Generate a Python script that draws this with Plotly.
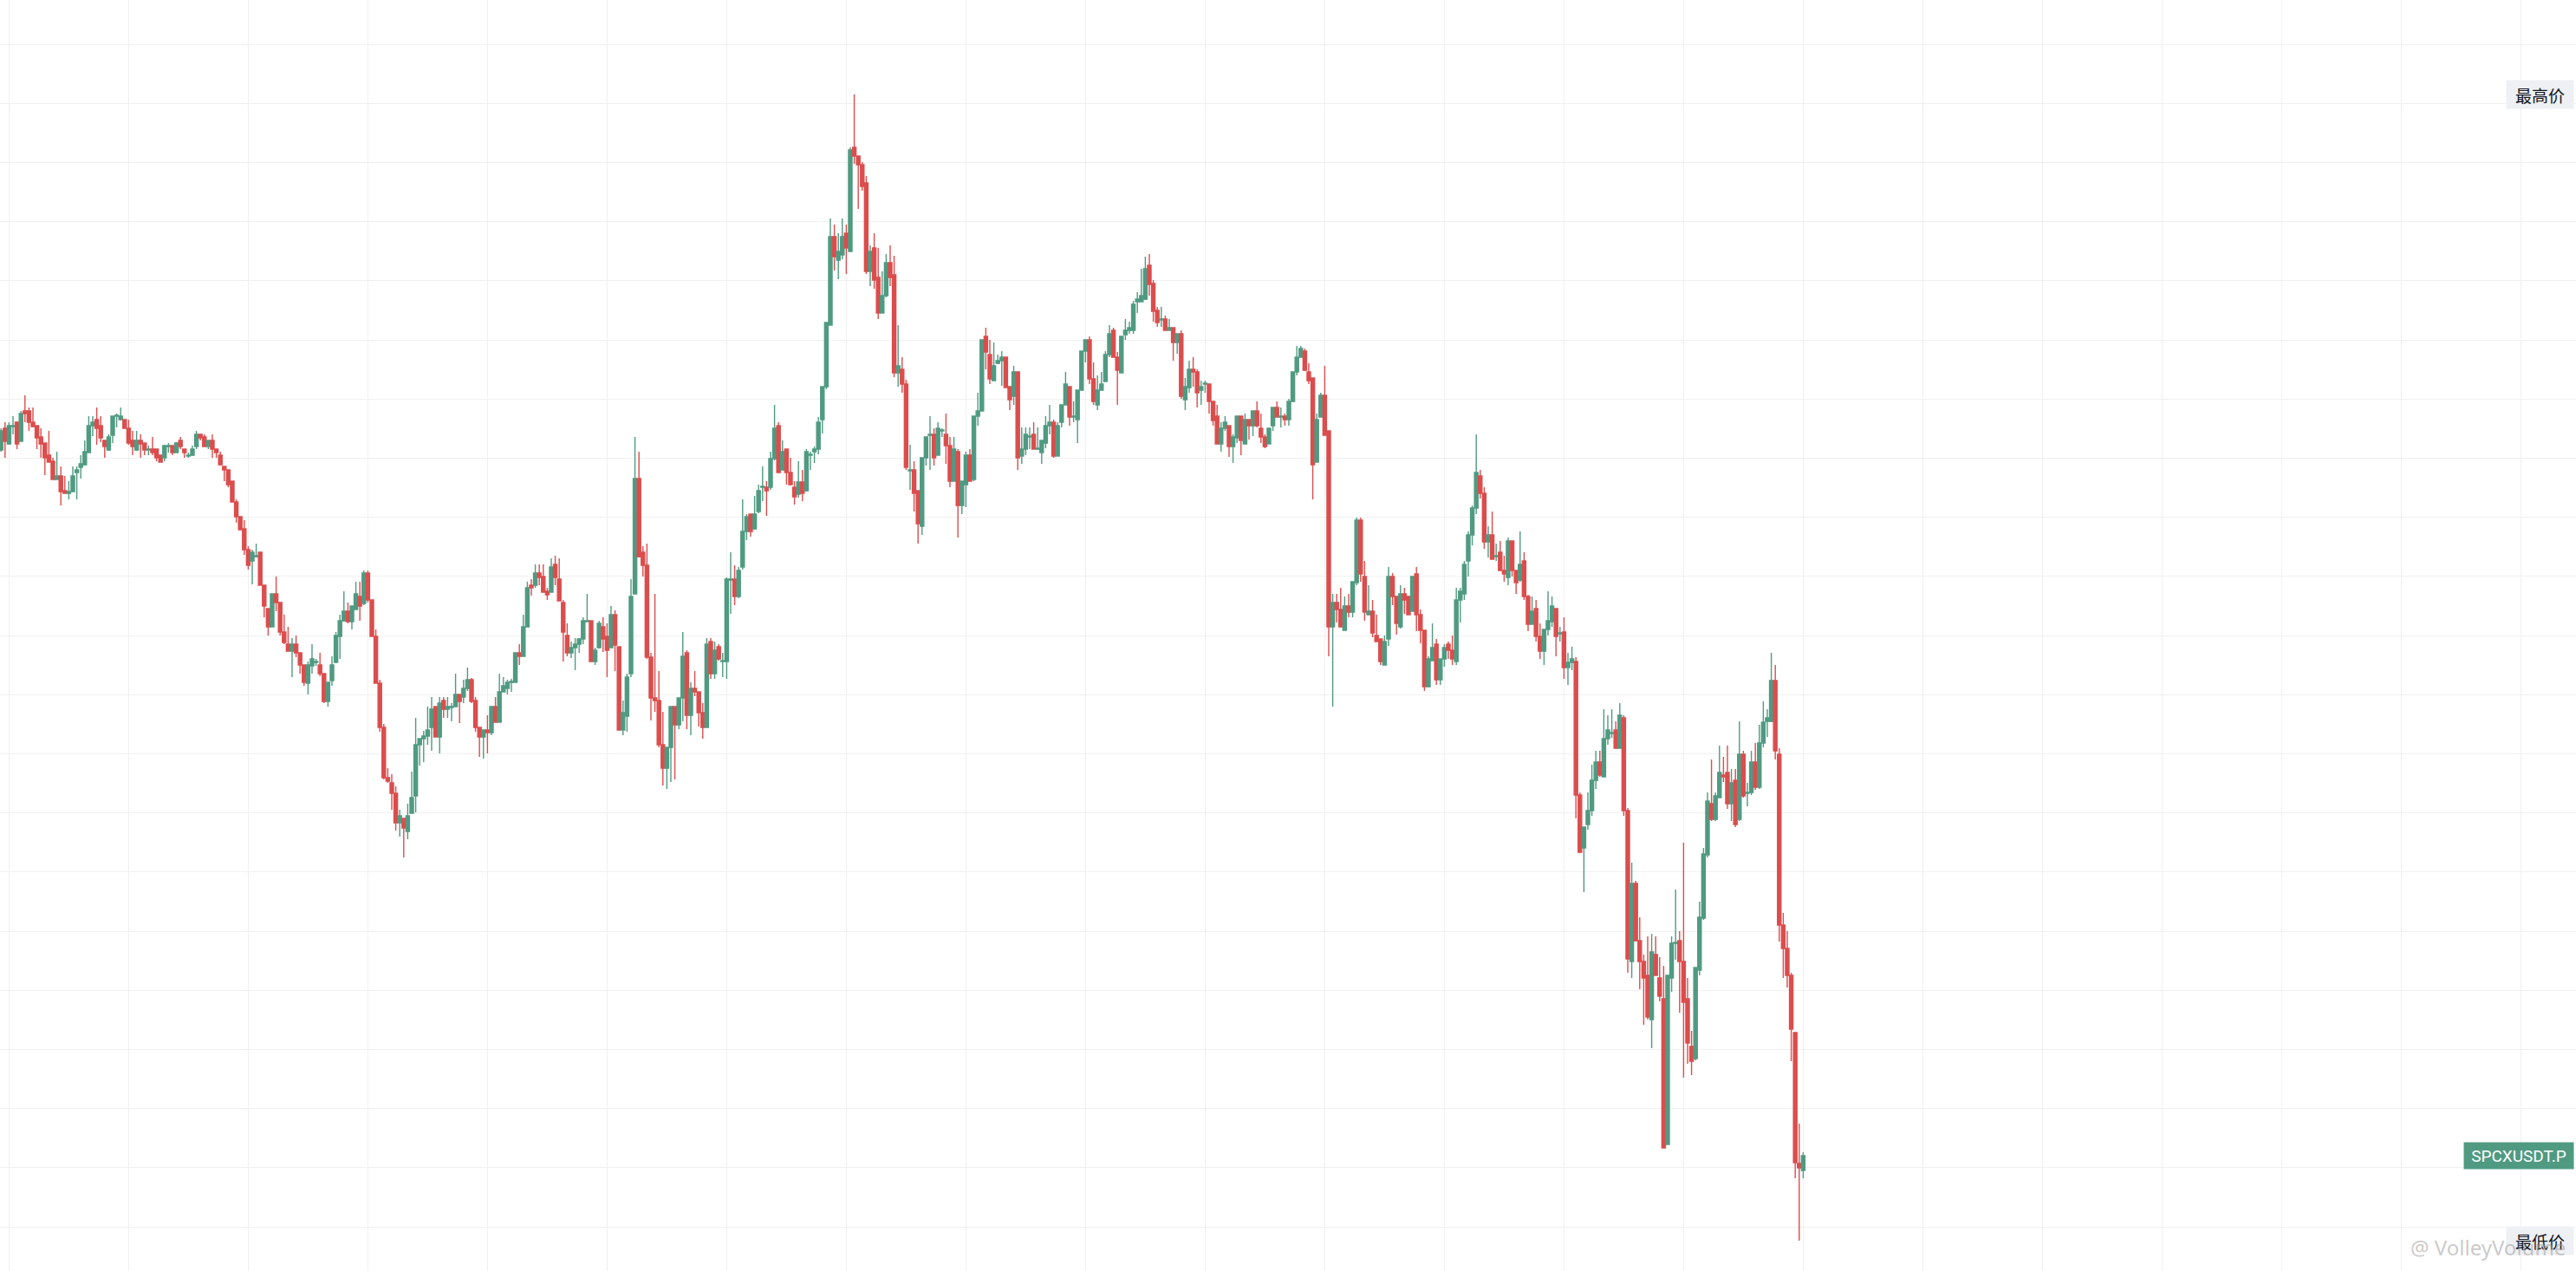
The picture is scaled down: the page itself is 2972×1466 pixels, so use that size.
import plotly.graph_objects as go

# ---- data (price units, one candle per period) ----
opens = [
981,1006,988,1008,1013,991,1026,1026,1013,1009,
996,989,975,968,947,951,934,931,933,955,
961,964,978,1009,1016,1009,992,981,998,1020,
1016,1016,1006,992,981,992,989,981,982,982,
975,972,985,986,978,992,982,974,975,985,
999,996,985,992,982,975,962,958,945,921,
904,890,866,853,858,863,825,798,777,815,
805,771,757,749,757,747,733,712,732,736,
733,723,691,715,736,766,784,795,783,797,
812,804,839,808,766,712,661,603,597,585,
551,556,541,562,582,641,648,651,661,685,
650,692,682,684,685,699,696,706,716,692,
661,650,658,655,685,667,702,706,713,713,
747,743,777,825,825,839,835,818,817,849,
832,805,767,747,753,757,763,783,784,737,
753,777,766,753,791,754,658,674,723,815,
948,863,848,742,695,692,641,614,638,685,
664,695,747,675,706,702,678,661,760,723,
754,737,737,831,832,812,846,887,907,890,
910,938,938,938,971,1009,958,982,955,938,
930,944,934,975,979,982,1016,1054,1125,1227,
1200,1206,1231,1210,1330,1320,1310,1289,1187,1214,
1180,1139,1159,1197,1183,1070,1074,1057,957,958,
934,893,972,998,999,975,1003,999,986,945,
979,917,941,975,947,1020,1026,1112,1091,1061,
1081,1084,1088,1054,1043,1071,974,982,996,999,
982,978,989,1009,1013,974,1013,1033,1054,1019,
1016,1050,1095,1108,1063,1033,1050,1060,1091,1119,
1088,1070,1114,1119,1119,1152,1152,1155,1194,1173,
1142,1131,1132,1119,1122,1105,1115,1039,1053,1074,
1071,1050,1057,1057,1037,1020,988,1006,1009,985,
995,1020,988,1016,1009,1026,1006,996,988,1009,
1030,1019,1020,1016,1037,1071,1088,1095,1071,1064,
967,1019,1044,1003,777,805,797,773,801,794,
828,900,835,791,795,767,763,733,763,835,
812,777,815,812,795,838,791,773,708,738,
757,716,740,757,750,737,808,815,853,883,
914,951,931,875,883,858,863,842,834,876,
842,831,853,812,780,798,766,749,774,783,
798,769,771,730,736,737,583,522,549,565,
600,621,604,648,654,658,637,672,565,391,
481,415,391,375,324,399,372,348,180,372,
412,415,391,348,293,279,381,441,514,573,
555,580,606,609,573,600,555,630,585,586,
621,592,643,668,668,715,630,433,406,375,
309,158,150]

highs = [
1006,1013,1013,1020,1014,1026,1044,1030,1030,1009,
1006,989,1003,972,979,962,951,945,962,962,
975,992,1020,1020,1030,1020,992,999,1020,1023,
1030,1016,1016,1003,1003,999,989,986,996,982,
975,987,989,986,990,996,982,978,986,1003,
999,999,992,999,982,979,962,958,945,924,
904,900,870,866,873,863,825,798,815,835,
805,791,777,764,767,747,733,737,757,740,
747,723,713,743,771,791,818,805,801,829,
829,842,842,808,774,716,665,614,607,593,
566,556,573,610,672,648,657,685,696,685,
696,696,696,689,723,699,716,730,718,696,
661,658,675,685,696,723,719,716,717,747,
757,791,829,832,849,849,849,822,856,859,
856,808,781,760,764,764,788,815,784,753,
784,788,781,801,796,754,692,723,832,996,
979,870,873,747,815,726,679,638,685,685,
695,771,750,713,726,702,689,764,764,760,
757,747,834,863,848,846,924,907,907,928,
941,962,945,979,1033,1013,992,982,972,945,
968,958,982,979,985,1019,1054,1128,1248,1241,
1231,1248,1241,1330,1391,1320,1313,1297,1217,1231,
1214,1187,1207,1217,1205,1125,1088,1062,987,968,
934,972,996,1020,1006,1013,1006,1023,996,996,
982,945,979,982,1020,1047,1108,1122,1108,1105,
1091,1095,1088,1054,1078,1071,1007,1007,1007,1013,
1007,992,1020,1033,1016,1013,1033,1071,1054,1037,
1050,1095,1108,1112,1082,1067,1071,1095,1125,1122,
1094,1112,1132,1129,1153,1163,1190,1204,1207,1177,
1146,1146,1136,1132,1122,1115,1119,1064,1084,1088,
1074,1061,1061,1057,1037,1033,1013,1020,1009,999,
1020,1020,1023,1016,1026,1037,1023,999,1006,1030,
1037,1030,1023,1040,1071,1101,1101,1098,1081,1064,
1023,1047,1078,1003,815,815,822,812,815,829,
903,903,853,825,808,791,763,767,846,839,
812,825,822,812,835,846,797,773,743,781,
763,740,757,760,767,822,822,853,887,917,
999,958,938,893,910,873,876,859,880,876,
842,887,863,814,812,808,781,774,818,812,
798,777,788,747,754,742,586,546,586,618,
634,634,682,675,682,668,689,675,568,505,
484,442,399,420,423,420,396,386,375,420,
474,426,528,372,311,384,460,522,586,624,
586,640,627,640,613,613,668,634,597,634,
643,664,691,682,747,733,637,447,426,378,
309,204,171]

lows = [
979,972,987,999,982,991,1013,1003,1007,982,
972,952,967,947,947,917,931,924,933,924,
948,963,978,997,987,990,972,980,989,1007,
1015,1006,987,975,980,972,975,975,975,968,
967,968,978,975,978,982,972,972,974,982,
992,985,982,972,972,963,945,938,921,897,
889,860,843,826,857,825,788,767,777,795,
767,757,749,719,742,723,709,699,723,732,
720,689,685,709,736,740,783,781,774,797,
784,802,805,766,712,656,601,597,566,542,
535,511,532,562,563,617,621,641,634,650,
631,672,672,668,685,666,689,703,689,656,
627,625,631,652,667,667,702,699,702,713,
733,743,777,813,822,825,817,808,817,825,
807,737,743,741,727,747,757,783,737,733,
752,748,719,753,726,658,652,656,719,815,
857,835,740,669,679,638,594,590,598,601,
659,668,659,652,697,662,648,661,717,717,
738,719,717,792,802,810,843,877,881,889,
908,922,905,935,969,955,957,941,941,918,
926,922,933,958,966,976,1000,1051,1125,1188,
1178,1201,1184,1210,1311,1259,1280,1184,1170,1167,
1132,1139,1157,1170,1065,1054,1047,958,935,910,
873,883,963,958,963,975,996,965,938,945,
880,907,915,945,945,1009,1026,1074,1057,1061,
1080,1055,1053,1027,1033,958,965,975,982,982,
981,965,983,999,972,974,1007,1033,1009,1013,
989,1050,1082,1057,1033,1027,1050,1060,1088,1088,
1033,1070,1108,1115,1115,1139,1152,1154,1159,1129,
1123,1123,1119,1119,1084,1092,1040,1027,1047,1054,
1030,1033,1047,1023,1009,988,979,1003,973,966,
989,975,988,993,997,1007,989,983,988,1003,
1019,1007,1009,1009,1037,1067,1088,1072,1057,924,
967,1019,998,743,685,782,777,773,788,788,
825,829,784,791,765,760,733,733,755,802,
768,775,792,791,795,772,758,703,707,738,
710,710,731,740,733,733,782,808,835,871,
907,925,867,857,855,853,842,829,825,835,
815,829,808,772,780,760,740,733,767,777,
743,760,717,710,727,556,516,471,543,559,
590,604,604,641,649,637,637,559,378,372,
414,359,318,324,291,375,345,176,180,356,
393,332,257,273,260,277,375,439,511,553,
553,580,598,567,553,546,553,580,570,583,
589,590,638,650,667,624,414,372,361,276,
141,69,141]

closes = [
1003,991,1009,1009,988,1023,1023,1013,1008,995,
988,972,967,947,951,933,931,933,951,958,
965,979,1009,1013,1006,995,985,996,1020,1021,
1020,1006,989,985,992,988,981,982,978,972,
967,986,986,978,989,985,978,975,982,999,
995,985,992,982,978,964,958,941,921,904,
889,866,848,863,859,825,801,777,815,805,
771,759,749,757,747,733,713,733,740,737,
723,691,713,733,767,784,795,783,801,815,
801,839,808,766,712,661,603,599,585,551,
559,545,559,580,641,648,651,658,682,650,
689,682,685,685,699,691,706,716,691,661,
650,658,655,685,667,702,709,713,714,747,
743,777,822,822,839,834,817,814,846,834,
807,771,747,753,757,763,784,784,737,750,
781,763,750,791,756,658,678,719,812,948,
858,848,742,695,692,641,614,638,685,664,
695,743,675,706,702,678,661,757,723,750,
740,738,832,832,812,842,887,904,887,907,
934,939,934,971,1006,955,979,955,941,927,
944,931,979,976,982,1013,1054,1128,1227,1204,
1210,1227,1214,1327,1320,1310,1285,1187,1210,1177,
1139,1159,1197,1180,1070,1078,1057,961,958,931,
896,972,996,999,972,1006,1004,986,945,982,
917,945,975,945,1020,1026,1108,1094,1063,1078,
1084,1088,1053,1039,1071,972,982,999,997,982,
983,992,1009,1013,974,1009,1033,1057,1019,1020,
1050,1095,1108,1063,1037,1050,1057,1091,1115,1088,
1073,1112,1119,1122,1149,1155,1159,1190,1172,1141,
1128,1132,1119,1122,1105,1115,1043,1054,1074,1071,
1047,1054,1058,1037,1015,988,1006,1013,985,996,
1020,992,1016,1009,1026,1009,996,985,1006,1030,
1019,1020,1016,1037,1071,1088,1098,1073,1061,964,
1016,1044,998,777,805,797,777,801,794,829,
900,838,794,795,770,760,737,760,835,812,
781,815,808,791,835,791,773,708,740,753,
716,740,753,750,740,808,818,849,883,914,
955,931,875,883,855,859,842,838,876,842,
828,849,812,780,795,766,749,774,784,801,
766,770,730,736,740,583,517,546,565,600,
621,606,648,658,655,637,675,565,394,481,
415,391,372,327,402,375,351,176,375,412,
413,391,344,297,276,384,442,515,576,555,
582,609,604,573,597,549,630,582,586,621,
592,643,667,672,715,634,433,406,375,313,
159,153,167]

periods = list(range(len(opens)))

symbol = "SPCXUSDT.P"
high_label = "最高价"
low_label = "最低价"
watermark = "@ VolleyVolume"

GREEN = "#509a82"
RED = "#db4d4d"
GRID = "#f0f0f0"

fig = go.Figure(go.Candlestick(
    x=periods, open=opens, high=highs, low=lows, close=closes,
    increasing=dict(line=dict(color=GREEN, width=1.4), fillcolor=GREEN),
    decreasing=dict(line=dict(color=RED, width=1.4), fillcolor=RED),
    whiskerwidth=0, hoverinfo="skip", showlegend=False,
))

cjk = "Noto Sans CJK SC"
fig.add_annotation(x=1, xref="paper", xanchor="right", xshift=-2,
                   y=max(highs), yref="y", yanchor="middle",
                   text=high_label, showarrow=False,
                   font=dict(family=cjk, size=19, color="#131722"),
                   bgcolor="#eef0f3", borderpad=4, width=69, height=24)
fig.add_annotation(x=1, xref="paper", xanchor="right", xshift=-2,
                   y=closes[-1], yref="y", yanchor="middle",
                   text=symbol, showarrow=False,
                   font=dict(family="Roboto", size=19, color="white"),
                   bgcolor=GREEN, borderpad=4, width=118, height=22)
fig.add_annotation(x=1, xref="paper", xanchor="right", xshift=-2,
                   y=min(lows), yref="y", yanchor="middle",
                   text=low_label, showarrow=False,
                   font=dict(family=cjk, size=19, color="#131722"),
                   bgcolor="#eef0f3", borderpad=4, width=69, height=24)
fig.add_annotation(x=1, xref="paper", xanchor="right", xshift=-10,
                   y=min(lows), yref="y", yanchor="middle", yshift=-7,
                   text=watermark, showarrow=False,
                   font=dict(family="Noto Sans", size=24, color="rgba(150,150,150,0.5)"))

fig.update_layout(
    width=2972, height=1466,
    margin=dict(l=0, r=0, t=0, b=0, pad=0),
    paper_bgcolor="white", plot_bgcolor="white",
    showlegend=False, boxgap=0.12, boxgroupgap=0,
    xaxis=dict(range=[-0.26, 645.83], tickmode="linear", tick0=2, dtick=30,
               showgrid=True, gridcolor=GRID, gridwidth=1,
               showticklabels=False, ticks="", zeroline=False, showline=False,
               rangeslider=dict(visible=False), fixedrange=True),
    yaxis=dict(range=[34, 1500], tickmode="linear", tick0=1449, dtick=68.2,
               showgrid=True, gridcolor=GRID, gridwidth=1,
               showticklabels=False, ticks="", zeroline=False, showline=False,
               fixedrange=True),
)

fig.write_html("out.html", config={"displayModeBar": False},
               post_script="document.body.style.margin='0';document.body.style.overflow='hidden';")
